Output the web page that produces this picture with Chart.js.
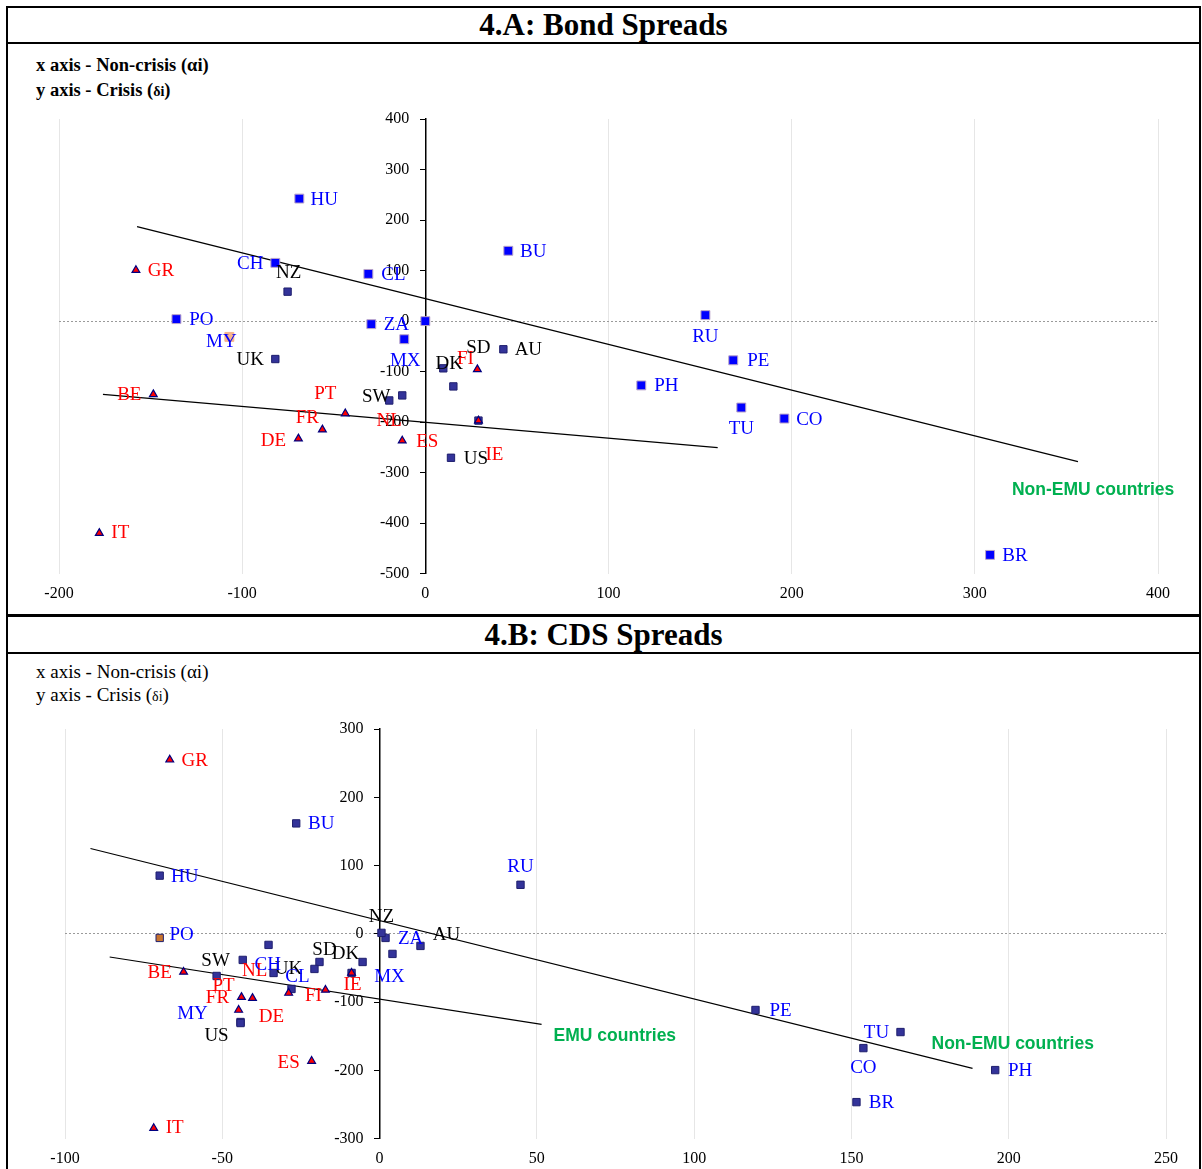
<!DOCTYPE html>
<html>
<head>
<meta charset="utf-8">
<script src="https://cdn.jsdelivr.net/npm/chart.js@4.4.1/dist/chart.umd.min.js"></script>
<style>
  body { margin: 0; background: #fff; width: 1202px; height: 1169px; overflow: hidden; position: relative; }
  .frame { position: absolute; left: 6px; top: 6px; width: 1195px; height: 1180px; box-sizing: border-box; border: 2px solid #000; }
  .rule { position: absolute; left: 6px; width: 1195px; background: #000; }
  .title { position: absolute; left: 8px; width: 1191px; text-align: center; font: bold 31px "Liberation Serif", serif; }
  .note { position: absolute; left: 36px; font-family: "Liberation Serif", serif; white-space: nowrap; line-height: 22px; }
  canvas { position: absolute; left: 8px; }
</style>
</head>
<body>
<div class="frame"></div>
<div class="title" style="top:7px;line-height:36px;">4.A: Bond Spreads</div>
<div class="rule" style="top:42px;height:2px;"></div>
<div class="note" style="top:54px;font-size:18.5px;font-weight:bold;">x axis - Non-crisis (αi)</div>
<div class="note" style="top:79px;font-size:18.5px;font-weight:bold;">y axis - Crisis (<span style="font-size:14px">δi</span>)</div>
<canvas id="bondChart" width="1190" height="513" style="top:100px;"></canvas>

<div class="rule" style="top:614px;height:3px;"></div>
<div class="title" style="top:617px;line-height:36px;">4.B: CDS Spreads</div>
<div class="rule" style="top:652px;height:2px;"></div>
<div class="note" style="top:661px;font-size:19px;">x axis - Non-crisis (αi)</div>
<div class="note" style="top:684px;font-size:19px;">y axis - Crisis (<span style="font-size:14px">δi</span>)</div>
<canvas id="cdsChart" width="1190" height="480" style="top:700px;"></canvas>

<script>
// ---------- 4.A Bond spreads ----------
const bondEmNames = ['HU', 'CH', 'CL', 'BU', 'PO', 'ZA', '', 'MX', 'RU', 'PE', 'PH', 'TU', 'CO', 'BR'];
const bondEmX = [-68.8, -81.9, -31.1, 45.3, -135.9, -29.5, 0, -11.5, 152.9, 168.1, 117.9, 172.5, 196, 308.3];
const bondEmY = [242.5, 115.3, 93.4, 139.2, 4, -6, 0, -35.8, 11.9, -77.5, -127.2, -171, -192.8, -462.6];
const bondMyNames = ['MY'];
const bondMyX = [-107];
const bondMyY = [-31.2];
const bondDevNames = ['NZ', 'UK', 'SW', 'NL', 'DK', 'SD', 'AU', 'US', ''];
const bondDevX = [-75.2, -81.9, -19.7, -12.6, 9.8, 15.3, 42.6, 14, 29];
const bondDevY = [58.3, -75, -157, -147, -93.4, -129.2, -55.7, -270.4, -196.8];
const bondEmuNames = ['GR', 'BE', 'IT', 'DE', 'FR', 'PT', 'ES', 'FI', 'IE'];
const bondEmuX = [-158, -148.5, -178, -69.3, -56.2, -43.7, -12.6, 28.4, 29];
const bondEmuY = [100.8, -145, -419.5, -232.6, -214.7, -182.9, -236.6, -95.4, -196.8];
const bondNonEmuFitX = [-157.4, 356.3];
const bondNonEmuFitY = [187, -278];
const bondEmuFitX = [-176, 159.6];
const bondEmuFitY = [-145, -250.5];
const bondXTicks = [-200, -100, 0, 100, 200, 300, 400];
const bondYTicks = [-500, -400, -300, -200, -100, 0, 100, 200, 300, 400];

// ---------- 4.B CDS spreads ----------
const cdsEmNames = ['BU', 'HU', 'RU', 'ZA', 'MX', 'CH', 'CL', 'MY', 'PE', 'TU', 'CO', 'PH', 'BR', ''];
const cdsEmX = [-26.5, -69.9, 44.8, 1.9, 4.1, -43.5, -28.0, -44.2, 119.5, 165.6, 153.8, 195.7, 151.6, -35.3];
const cdsEmY = [161.8, 85.3, 71.9, -5.9, -29.3, -38.1, -80.6, -129, -111.4, -143.7, -167.2, -199.4, -246.3, -16.1];
const cdsPoNames = ['PO'];
const cdsPoX = [-69.9];
const cdsPoY = [-5.9];
const cdsDevNames = ['NZ', 'AU', 'DK', 'SD', '', 'UK', 'SW', 'US', ''];
const cdsDevX = [0.6, 13.0, -5.4, -19.1, -20.7, -33.7, -51.8, -44.2, -8.9];
const cdsDevY = [1.5, -17.6, -41.1, -41.1, -51.3, -57.2, -61.6, -130.5, -57.2];
const cdsEmuNames = ['GR', 'BE', 'FR', 'DE', 'PT', 'NL', 'FI', 'IE', 'ES', 'IT'];
const cdsEmuX = [-66.7, -62.3, -43.9, -40.4, -44.8, -28.9, -17.2, -8.9, -21.6, -71.8];
const cdsEmuY = [255, -55.7, -92.6, -94.1, -111.4, -86.5, -82.1, -57.2, -186.2, -284.5];
const cdsNonEmuFitX = [-91.9, 188.5];
const cdsNonEmuFitY = [125, -197];
const cdsEmuFitX = [-85.8, 51.5];
const cdsEmuFitY = [-33.8, -132.4];
const cdsXTicks = [-100, -50, 0, 50, 100, 150, 200, 250];
const cdsYTicks = [-300, -200, -100, 0, 100, 200, 300];

// label placement (pixels from the marker), default is to the right
const bondLabelShift = {
  CH: [-25, 1], NZ: [1, -19], MY: [-8, 5], MX: [1, 22], UK: [-25, 1], SW: [-13, -3], NL: [-13, 26],
  DK: [6, -4], SD: [25, -38], FI: [-12, -10], IE: [16, 34], DE: [-25, 2], FR: [-15, -12],
  PT: [-20, -20], BE: [-24, 1], IT: [21, 0], RU: [0, 22], TU: [0, 21]
};
const cdsLabelShift = {
  RU: [0, -18], MX: [-3, 23], CH: [25, 5], CL: [6, -12], MY: [-48, -8], TU: [-24, 1], CO: [0, 20],
  NZ: [0, -16], AU: [26, -11], DK: [-17, -8], SD: [5, -12], UK: [15, -4], SW: [-1, -15], US: [-24, 13],
  BE: [-24, 1], FR: [-24, 1], DE: [19, 19], PT: [-15, -24], NL: [-34, -22], FI: [-12, 6], IE: [1, 12],
  ES: [-23, 2], IT: [21, 0], PO: [22, -3]
};

const SERIF = '"Liberation Serif", "Times New Roman", serif';
const BLUE = '#0000ff', NAVY = '#333399', RED = '#ff0000';

const pts = (xs, ys) => xs.map((x, i) => ({ x: x, y: ys[i] }));

const makeLabels = (shift, override, captions) => ({
  id: 'pointLabels',
  afterDatasetsDraw(chart) {
    const ctx = chart.ctx;
    ctx.save();
    ctx.font = '19px ' + SERIF;
    ctx.textAlign = 'center';
    ctx.textBaseline = 'middle';
    chart.data.datasets.forEach((ds, i) => {
      if (!ds.names) return;
      chart.getDatasetMeta(i).data.forEach((el, j) => {
        const name = ds.names[j];
        if (!name) return;
        const s = shift[name] || [25, 1];
        ctx.fillStyle = override[name] || ds.labelColor;
        ctx.fillText(name, el.x + s[0], el.y + s[1]);
      });
    });
    ctx.font = 'bold 17.5px "Liberation Sans", Arial, sans-serif';
    ctx.fillStyle = '#00b050';
    ctx.textAlign = 'left';
    captions.forEach(c => {
      const el = chart.getDatasetMeta(c.dataset).data[c.point];
      ctx.fillText(c.text, el.x + c.dx, el.y + c.dy);
    });
    ctx.restore();
  }
});

const fitLine = (xs, ys) => ({
  data: pts(xs, ys), showLine: true, borderColor: '#000', borderWidth: 1.2,
  pointRadius: 0, pointHoverRadius: 0
});

const scalesFor = (xTicks, yTicks) => ({
  x: {
    type: 'linear', position: 'bottom', min: xTicks[0], max: xTicks[xTicks.length - 1],
    afterBuildTicks: s => { s.ticks = xTicks.map(v => ({ value: v })); },
    ticks: { color: '#000', font: { family: SERIF, size: 16 }, padding: 10, maxRotation: 0 },
    grid: { color: '#e6e6e6', drawTicks: false },
    border: { display: false }
  },
  y: {
    type: 'linear', position: { x: 0 }, min: yTicks[0], max: yTicks[yTicks.length - 1],
    afterBuildTicks: s => { s.ticks = yTicks.map(v => ({ value: v })); },
    // labels sit to the left of the crossing axis
    ticks: { color: '#000', font: { family: SERIF, size: 16 }, callback: v => v + '\u2002\u2002' },
    grid: {
      color: c => (c.tick && c.tick.value === 0) ? '#9a9a9a' : 'rgba(0,0,0,0)',
      tickColor: '#000', tickLength: 5, drawTicks: true
    },
    border: { display: true, color: '#000', width: 1.5, dash: [2, 2] }
  }
});

const baseOptions = (xTicks, yTicks, padding) => ({
  responsive: false,
  animation: false,
  layout: { padding: padding },
  plugins: { legend: { display: false }, tooltip: { enabled: false } },
  scales: scalesFor(xTicks, yTicks)
});

// 4.A
new Chart(document.getElementById('bondChart'), {
  type: 'scatter',
  data: {
    datasets: [
      { data: pts(bondEmuX, bondEmuY), names: bondEmuNames, labelColor: RED, pointStyle: 'triangle',
        pointRadius: 4.5, backgroundColor: RED, borderColor: '#000080', borderWidth: 1.2 },
      { data: pts(bondDevX, bondDevY), names: bondDevNames, labelColor: '#000', pointStyle: 'rect',
        pointRadius: 5.2, backgroundColor: NAVY, borderColor: '#1f1f6e', borderWidth: 1 },
      { data: pts(bondEmX, bondEmY), names: bondEmNames, labelColor: BLUE, pointStyle: 'rect',
        pointRadius: 6.3, backgroundColor: BLUE, borderColor: '#b9a3c8', borderWidth: 1 },
      { data: pts(bondMyX, bondMyY), names: bondMyNames, labelColor: BLUE, pointStyle: 'rect',
        pointRadius: 6.3, backgroundColor: '#f6b48c', borderColor: '#f6b48c', borderWidth: 1 },
      fitLine(bondNonEmuFitX, bondNonEmuFitY),
      fitLine(bondEmuFitX, bondEmuFitY)
    ]
  },
  options: baseOptions(bondXTicks, bondYTicks, { left: 51, right: 40, top: 19, bottom: 0 }),
  plugins: [makeLabels(bondLabelShift, { NL: RED },
    [{ dataset: 4, point: 1, text: 'Non-EMU countries', dx: -66, dy: 29 }])]
});

// 4.B
new Chart(document.getElementById('cdsChart'), {
  type: 'scatter',
  data: {
    datasets: [
      { data: pts(cdsEmuX, cdsEmuY), names: cdsEmuNames, labelColor: RED, pointStyle: 'triangle',
        pointRadius: 4.5, backgroundColor: RED, borderColor: '#000080', borderWidth: 1.2 },
      { data: pts(cdsDevX, cdsDevY), names: cdsDevNames, labelColor: '#000', pointStyle: 'rect',
        pointRadius: 5.2, backgroundColor: NAVY, borderColor: '#1f1f6e', borderWidth: 1 },
      { data: pts(cdsEmX, cdsEmY), names: cdsEmNames, labelColor: BLUE, pointStyle: 'rect',
        pointRadius: 5.2, backgroundColor: NAVY, borderColor: '#1f1f6e', borderWidth: 1 },
      { data: pts(cdsPoX, cdsPoY), names: cdsPoNames, labelColor: BLUE, pointStyle: 'rect',
        pointRadius: 5.2, backgroundColor: '#c8742e', borderColor: '#1f1f6e', borderWidth: 1 },
      fitLine(cdsNonEmuFitX, cdsNonEmuFitY),
      fitLine(cdsEmuFitX, cdsEmuFitY)
    ]
  },
  options: baseOptions(cdsXTicks, cdsYTicks, { left: 57, right: 32, top: 29, bottom: 2 }),
  plugins: [makeLabels(cdsLabelShift, {},
    [{ dataset: 5, point: 1, text: 'EMU countries', dx: 12, dy: 12 },
     { dataset: 4, point: 1, text: 'Non-EMU countries', dx: -41, dy: -24 }])]
});
</script>
</body>
</html>
